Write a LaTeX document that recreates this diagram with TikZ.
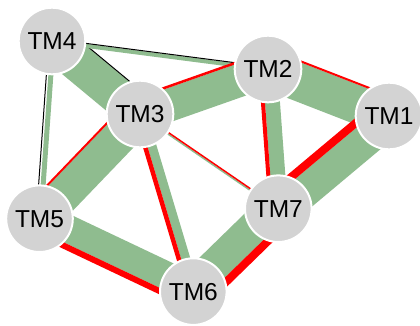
\documentclass[tikz,border=0pt]{standalone}
\usepackage{fontspec}
\setmainfont{Liberation Sans}
\usetikzlibrary{calc}
\pgfdeclarelayer{bg}
\pgfsetlayers{bg,main}
\definecolor{edgegreen}{RGB}{143,188,143}
\definecolor{nodegray}{RGB}{211,211,211}
\definecolor{edgered}{RGB}{255,0,0}
% #1 A, #2 B, #3 red/black width, #4 green width, #5 side (+1 left of A->B, -1 right), #6 colour, #7 gap
\newcommand\bedge[7]{%
  \pgfmathsetmacro\redoff{#5*(#4/2+#7/2)}%
  \pgfmathsetmacro\greenoff{-#5*(#3/2+#7/2)}%
  \draw[line width=#4pt, edgegreen] ($(#1)!\greenoff pt!90:(#2)$) -- ($(#2)!\greenoff pt!-90:(#1)$);
  \draw[line width=#3pt, #6] ($(#1)!\redoff pt!90:(#2)$) -- ($(#2)!\redoff pt!-90:(#1)$);
}
\tikzset{
  tm/.style={circle, fill=nodegray, draw=white, line width=2pt,
    minimum size=66.6pt, inner sep=0pt, font=\fontsize{24.5}{29}\selectfont}
}
\begin{document}
\begin{tikzpicture}[x=1pt,y=1pt]
\useasboundingbox (0,0) rectangle (420,325);
\node[tm] (TM4) at (52,284) {TM4};
\node[tm] (TM3) at (140,211) {TM3};
\node[tm] (TM2) at (268,256) {TM2};
\node[tm] (TM1) at (389,209) {TM1};
\node[tm] (TM5) at (39.5,106.3) {TM5};
\node[tm] (TM7) at (278.3,116.3) {TM7};
\node[tm] (TM6) at (193.3,33.4) {TM6};
\begin{pgfonlayer}{bg}
\bedge{TM4}{TM3}{1}{37}{1}{black}{0}
\bedge{TM4}{TM2}{1}{4}{1}{black}{0}
\bedge{TM4}{TM5}{1}{5}{-1}{black}{1.5}
\bedge{TM3}{TM2}{2.5}{33}{1}{edgered}{0}
\bedge{TM2}{TM1}{2}{38}{1}{edgered}{0}
\bedge{TM3}{TM5}{2}{35}{-1}{edgered}{0}
\bedge{TM3}{TM6}{4.5}{9}{-1}{edgered}{0}
\bedge{TM3}{TM7}{1.5}{1.5}{1}{edgered}{0}
\bedge{TM2}{TM7}{4}{15}{-1}{edgered}{0}
\bedge{TM1}{TM7}{8}{32}{-1}{edgered}{0}
\bedge{TM5}{TM6}{6}{28}{-1}{edgered}{0}
\bedge{TM6}{TM7}{8}{32}{-1}{edgered}{0}
\end{pgfonlayer}
\end{tikzpicture}
\end{document}
